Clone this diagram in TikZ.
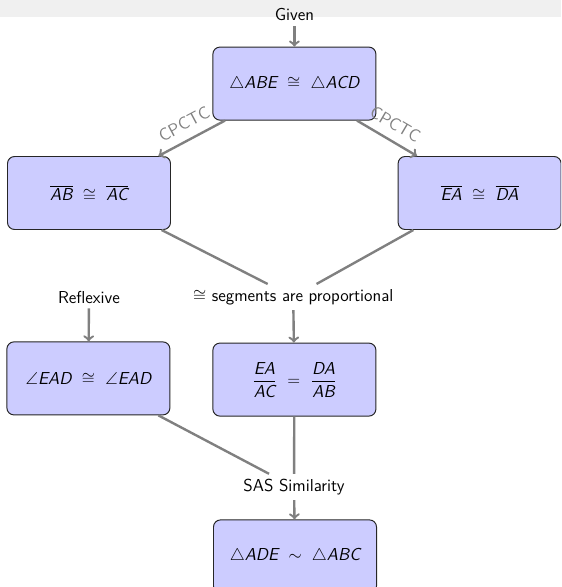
\documentclass[tikz,border=0pt]{standalone}
\usepackage[svgnames, dvipsnames, usenames]{xcolor}
\usepackage{amsmath}
\usepackage{amssymb}
\usepackage{tikz}
\usetikzlibrary{arrows}

\begin{document}
\begin{tikzpicture}[thick, font=\sffamily\fontsize{12.3}{15}\selectfont,
  stmt/.style={draw=black!85, fill=blue!20, rounded corners=5pt, line width=0.7pt,
    minimum width=4.075cm, minimum height=1.825cm},
  link/.style={draw=gray, line width=1.7pt},
  arr/.style={link, ->},
  rule/.style={sloped, above=3pt, text=gray}]
%%%%% Frame %%%%%
\useasboundingbox (0,0) rectangle (14.025,-14.675);
\clip (0,0) rectangle (14.025,-14.675);
\fill[gray!12] (0,0) rectangle (14.025,-0.425);
%%%%% Statements %%%%%
\node[stmt] (tri) at (7.36,-2.09) {$\triangle\text{\itshape ABE}\ \cong\ \triangle\text{\itshape ACD}$};
\node[stmt] (ab) at (2.225,-4.825) {$\overline{\text{\itshape AB}}\ \cong\ \overline{\text{\itshape AC}}$};
\node[stmt] (ea) at (11.99,-4.825) {$\overline{\text{\itshape EA}}\ \cong\ \overline{\text{\itshape DA}}$};
\node[stmt] (ang) at (2.21,-9.46) {$\angle\text{\itshape EAD}\ \cong\ \angle\text{\itshape EAD}$};
\node[stmt] (frac) at (7.36,-9.49) {$\dfrac{\text{\itshape EA}}{\text{\itshape AC}}\ =\ \dfrac{\text{\itshape DA}}{\text{\itshape AB}}$};
\node[stmt] (sim) at (7.375,-13.91) {$\triangle\text{\itshape ADE}\ \sim\ \triangle\text{\itshape ABC}$};
%%%%% Reasons %%%%%
\node (given) at (7.36,-0.375) {Given};
\node (seg) at (7.33,-7.425) {$\cong$ segments are proportional};
\node (refl) at (2.225,-7.425) {Reflexive};
\node (sas) at (7.35,-12.175) {SAS Similarity};
%%%%% Links %%%%%
\draw[arr] (given) -- (tri);
\draw[arr] (tri) -- node[rule] {CPCTC} (ab);
\draw[arr] (tri) -- node[rule] {CPCTC} (ea);
\draw[link] (ab) -- (seg);
\draw[link] (ea) -- (seg);
\draw[arr] (seg) -- (frac);
\draw[arr] (refl) -- (ang);
\draw[link] (ang) -- (sas);
\draw[link] (frac) -- (sas);
\draw[arr] (sas) -- (sim);
\end{tikzpicture}
\end{document}
